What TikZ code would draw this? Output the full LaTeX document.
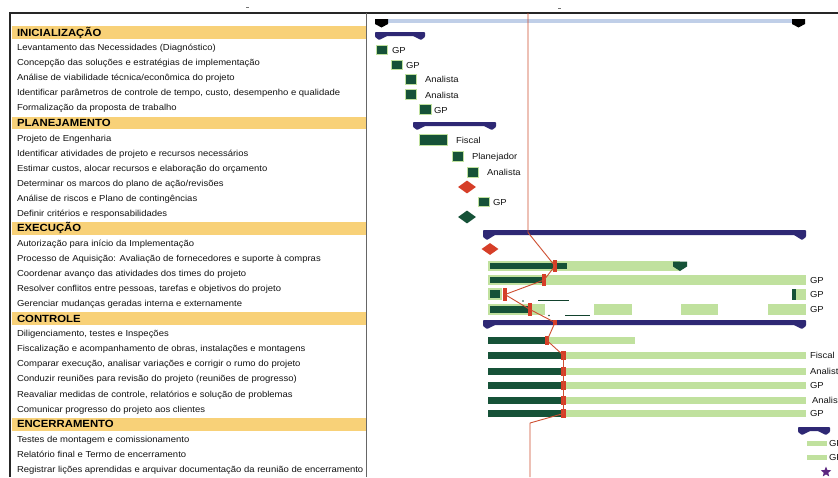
\documentclass[tikz,border=0pt]{standalone}
\usepackage{fontspec}
\setmainfont{Liberation Sans}
\newfontfamily\rowfont[FakeStretch=1.09]{Liberation Sans}
\usetikzlibrary{shapes.geometric}

\definecolor{hdrband}{RGB}{248,209,120}
\definecolor{dkgreen}{RGB}{22,82,56}
\definecolor{ltgreen}{RGB}{192,225,158}
\definecolor{navy}{RGB}{46,40,116}
\definecolor{skyline}{RGB}{192,207,232}
\definecolor{progred}{RGB}{206,78,48}
\definecolor{mkred}{RGB}{214,62,40}
\definecolor{purp}{RGB}{92,38,128}

\tikzset{
  rowtxt/.style={anchor=base west, inner sep=0pt, outer sep=0pt,
    font=\rowfont\fontsize{8.7}{10}\selectfont, text=black!92},
  hdrtxt/.style={anchor=base west, inner sep=0pt, outer sep=0pt,
    font=\rowfont\bfseries\fontsize{10.4}{12}\selectfont, text=black},
  reslbl/.style={anchor=base west, inner sep=0pt, outer sep=0pt,
    font=\rowfont\fontsize{8.7}{10}\selectfont, text=black!92},
  barbase/.style={rectangle, inner sep=0pt, outer sep=0pt, draw=none},
  dk/.style={barbase, fill=dkgreen},
  lt/.style={barbase, fill=ltgreen},
  taskbox/.style={barbase, fill=dkgreen, draw=ltgreen, line width=1.2pt},
  redmk/.style={barbase, fill=mkred},
  milered/.style={diamond, fill=mkred, inner sep=0pt, minimum width=18pt, minimum height=13pt},
  milegreen/.style={diamond, fill=dkgreen, inner sep=0pt, minimum width=18pt, minimum height=13pt},
  progline/.style={draw=progred, line width=0.9pt, line join=round},
  frameline/.style={draw=black!85, line width=1.1pt},
  divline/.style={draw=black!60, line width=0.7pt},
  slackline/.style={draw=dkgreen!80!black, line width=0.9pt},
}

% row y position (centre) for row #1
\newcommand\rowy[1]{32.5+15.06*#1}
% plain activity row: name, index, text
\newcommand\trow[3]{\node[rowtxt] (#1) at (17,{\rowy{#2}+3.1}) {#3};}
% phase header row with its coloured band
\newcommand\hrow[3]{%
  \fill[hdrband] (12,{\rowy{#2}-6.3}) rectangle (366,{\rowy{#2}+6.5});
  \node[hdrtxt] (#1) at (17,{\rowy{#2}+3.7}) {#3};}
% gantt bar as a named node: name, x1, x2, y1, y2, style
\newcommand\gbar[6]{\node[#6, minimum width={(#3-#2)*1pt}, minimum height={(#5-#4)*1pt}]
  (#1) at ({(#2+#3)/2},{(#4+#5)/2}) {};}
% summary bar with down-pointing end tabs: x1, x2, ytop, thickness, tab depth
\newcommand\sumbar[5]{\fill[navy, rounded corners=0.8pt]
  (#1,#3) -- (#2,#3) -- (#2,{#3+#5-3}) -- ({#2-4},{#3+#5}) -- ({#2-12},{#3+#4})
  -- ({#1+12},{#3+#4}) -- ({#1+4},{#3+#5}) -- (#1,{#3+#5-3}) -- cycle;}

\begin{document}
\begin{tikzpicture}[x=1pt,y=-1pt]
\useasboundingbox (0,0) rectangle (838,477);
\clip (0,0) rectangle (838,477);
\fill[white] (0,0) rectangle (838,477);

% table frame and column divider
\draw[frameline] (10,477) -- (10,13) -- (838,13);
\draw[divline] (366,13) -- (366,477);
\draw[black!55, line width=0.6pt] (246,7) -- (249,7);
\draw[black!55, line width=0.6pt] (558,8) -- (561,8);

% ---------- activity list ----------
\hrow{h1}{0}{INICIALIZAÇÃO}
\trow{r1}{1}{Levantamento das Necessidades (Diagnóstico)}
\trow{r2}{2}{Concepção das soluções e estratégias de implementação}
\trow{r3}{3}{Análise de viabilidade técnica/econômica do projeto}
\trow{r4}{4}{Identificar parâmetros de controle de tempo, custo, desempenho e qualidade}
\trow{r5}{5}{Formalização da proposta de trabalho}
\hrow{h2}{6}{PLANEJAMENTO}
\trow{r7}{7}{Projeto de Engenharia}
\trow{r8}{8}{Identificar atividades de projeto e recursos necessários}
\trow{r9}{9}{Estimar custos, alocar recursos e elaboração do orçamento}
\trow{r10}{10}{Determinar os marcos do plano de ação/revisões}
\trow{r11}{11}{Análise de riscos e Plano de contingências}
\trow{r12}{12}{Definir critérios e responsabilidades}
\hrow{h3}{13}{EXECUÇÃO}
\trow{r14}{14}{Autorização para início da Implementação}
\trow{r15}{15}{Processo de Aquisição: Avaliação de fornecedores e suporte à compras}
\trow{r16}{16}{Coordenar avanço das atividades dos times do projeto}
\trow{r17}{17}{Resolver conflitos entre pessoas, tarefas e objetivos do projeto}
\trow{r18}{18}{Gerenciar mudanças geradas interna e externamente}
\hrow{h4}{19}{CONTROLE}
\trow{r20}{20}{Diligenciamento, testes e Inspeções}
\trow{r21}{21}{Fiscalização e acompanhamento de obras, instalações e montagens}
\trow{r22}{22}{Comparar execução, analisar variações e corrigir o rumo do projeto}
\trow{r23}{23}{Conduzir reuniões para revisão do projeto (reuniões de progresso)}
\trow{r24}{24}{Reavaliar medidas de controle, relatórios e solução de problemas}
\trow{r25}{25}{Comunicar progresso do projeto aos clientes}
\hrow{h5}{26}{ENCERRAMENTO}
\trow{r27}{27}{Testes de montagem e comissionamento}
\trow{r28}{28}{Relatório final e Termo de encerramento}
\trow{r29}{29}{Registrar lições aprendidas e arquivar documentação da reunião de encerramento}

% ---------- project summary ----------
\fill[skyline] (386,19) rectangle (794,23);
\fill[black] (375,19) -- (388,19) -- (388,24) -- (381.5,27.5) -- (375,24) -- cycle;
\fill[black] (792,19) -- (805,19) -- (805,24) -- (798.5,27.5) -- (792,24) -- cycle;

% ---------- INICIALIZAÇÃO ----------
\sumbar{375}{425}{32}{4}{8}
\gbar{a1}{376.3}{387.7}{45.6}{54.4}{taskbox}
\node[reslbl] (l1) at (392,53.3) {GP};
\gbar{a2}{391.3}{402.2}{60.6}{69.4}{taskbox}
\node[reslbl] (l2) at (406,68.3) {GP};
\gbar{a3}{405.6}{416.7}{74.6}{84.4}{taskbox}
\node[reslbl] (l3) at (425,82.8) {Analista};
\gbar{a4}{405.6}{416.7}{89.6}{99.4}{taskbox}
\node[reslbl] (l4) at (425,98.3) {Analista};
\gbar{a5}{419.6}{431.4}{104.6}{114.4}{taskbox}
\node[reslbl] (l5) at (434,113.3) {GP};

% ---------- PLANEJAMENTO ----------
\sumbar{413}{496}{122}{4}{8}
\gbar{b7}{419.6}{447.7}{134.6}{145.4}{taskbox}
\node[reslbl] (l7) at (456,143.3) {Fiscal};
\gbar{b8}{452.6}{463.4}{151.6}{161.4}{taskbox}
\node[reslbl] (l8) at (472,159.3) {Planejador};
\gbar{b9}{467.6}{478.4}{167.6}{177.4}{taskbox}
\node[reslbl] (l9) at (487,175.3) {Analista};
\node[milered] (d10) at (467,187) {};
\gbar{b11}{478.6}{489.4}{197.6}{206.4}{taskbox}
\node[reslbl] (l11) at (493,205.3) {GP};
\node[milegreen] (d12) at (467,217) {};

% ---------- EXECUÇÃO ----------
\sumbar{483}{806}{230}{5}{10}
\node[milered, minimum width=17pt, minimum height=12pt] (d14) at (490,249) {};
% aquisição
\gbar{c15o}{488}{680}{261}{271}{lt}
\gbar{c15i}{490}{567}{263}{269}{dk}
\fill[dkgreen] (673,261.5) -- (687,261.5) -- (687,266.5) -- (680,271) -- (673,266.5) -- cycle;
% coordenar
\gbar{c16o}{488}{806}{275}{285}{lt}
\gbar{c16i}{490}{543}{277}{283}{dk}
\node[reslbl] (l16) at (810,283.3) {GP};
% resolver conflitos
\gbar{c17o}{488}{502}{288}{300}{lt}
\gbar{c17i}{490}{500}{290}{298}{dk}
\fill[dkgreen] (523,301) circle (0.8);
\draw[slackline] (538,300.5) -- (569,300.5);
\gbar{c17r}{792}{806}{289}{300}{lt}
\gbar{c17d}{792}{796}{289}{300}{dk}
\node[reslbl] (l17) at (810,297.3) {GP};
% gerenciar mudanças
\gbar{c18o}{488}{545}{304}{315}{lt}
\gbar{c18i}{490}{528}{306}{313}{dk}
\fill[dkgreen] (549,315.5) circle (0.8);
\draw[slackline] (565,315.8) -- (590,315.8);
\gbar{c18a}{594}{632}{304}{315}{lt}
\gbar{c18b}{681}{718}{304}{315}{lt}
\gbar{c18c}{768}{806}{304}{315}{lt}
\node[reslbl] (l18) at (810,312.3) {GP};

% ---------- CONTROLE ----------
\sumbar{483}{806}{320}{5}{9}
\gbar{e20d}{488}{545}{337}{344}{dk}
\gbar{e20l}{545}{635}{337}{344}{lt}
\gbar{e21d}{488}{562}{352}{359}{dk}
\gbar{e21l}{562}{806}{352}{359}{lt}
\node[reslbl] (l21) at (810,358.8) {Fiscal};
\gbar{e22d}{488}{562}{367.5}{374.5}{dk}
\gbar{e22l}{562}{806}{367.5}{374.5}{lt}
\node[reslbl] (l22) at (810,374.3) {Analista};
\gbar{e23d}{488}{562}{381.5}{388.5}{dk}
\gbar{e23l}{562}{806}{381.5}{388.5}{lt}
\node[reslbl] (l23) at (810,388.3) {GP};
\gbar{e24d}{488}{562}{396.5}{403.5}{dk}
\gbar{e24l}{562}{806}{396.5}{403.5}{lt}
\node[reslbl] (l24) at (812,403.3) {Analista};
\gbar{e25d}{488}{562}{410}{417}{dk}
\gbar{e25l}{562}{806}{410}{417}{lt}
\node[reslbl] (l25) at (810,416.8) {GP};

% ---------- ENCERRAMENTO ----------
\sumbar{798}{830}{427}{4}{8}
\gbar{f27}{807}{827}{441}{446}{lt}
\node[reslbl] (l27) at (829,446.8) {GP};
\gbar{f28}{807}{827}{455}{460}{lt}
\node[reslbl] (l28) at (829,460.8) {GP};
\node[star, star points=5, star point ratio=2.3, fill=purp, inner sep=0pt, minimum size=11pt] (s29) at (826,472) {};

% ---------- status (progress) line ----------
\coordinate (ptop) at (528,13);
\coordinate (pexe) at (528,232.5);
\coordinate (pctl) at (555,322.5);
\coordinate (pbend) at (530,423);
\coordinate (pbot) at (530,477);
\gbar{m15}{553}{557}{260}{272}{redmk}
\gbar{m16}{542}{546}{274}{286}{redmk}
\gbar{m17}{503}{507}{288}{301}{redmk}
\gbar{m18}{528}{532}{303}{316}{redmk}
\gbar{m20}{545}{549}{336}{345}{redmk}
\gbar{m21}{561}{566}{351}{360}{redmk}
\gbar{m22}{561}{566}{366.5}{375.5}{redmk}
\gbar{m23}{561}{566}{380.5}{389.5}{redmk}
\gbar{m24}{561}{566}{395.5}{404.5}{redmk}
\gbar{m25}{561}{566}{409}{418}{redmk}
\draw[progline] (ptop) -- (pexe) -- (m15.center) -- (m16.center) -- (m17.center)
  -- (m18.center) -- (pctl) -- (m20.center) -- (m21.center) -- (m22.center)
  -- (m23.center) -- (m24.center) -- (m25.center) -- (pbend) -- (pbot);
\fill[mkred] (553,320) rectangle (557,325);
\end{tikzpicture}
\end{document}
